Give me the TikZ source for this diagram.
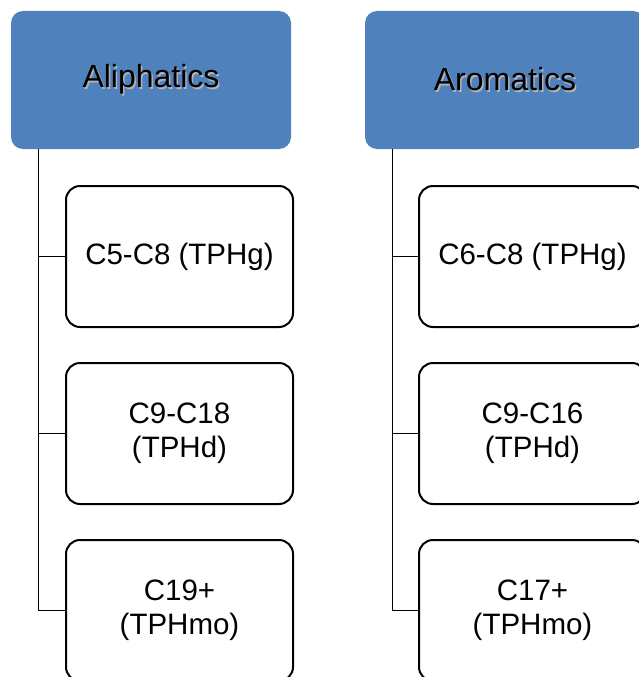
\documentclass[tikz,border=0pt]{standalone}
\usepackage{fontspec}
\setmainfont{Liberation Sans}
\usetikzlibrary{positioning}
\definecolor{hdrblue}{HTML}{4F81BD}
\newcommand{\shadowed}[1]{\makebox[0pt][l]{\hspace{1.5pt}\raisebox{-1.5pt}{\textcolor{black!30}{#1}}}#1}
\tikzset{
  header/.style={fill=hdrblue,rounded corners=12pt,minimum width=280pt,minimum height=138pt,
    inner sep=0pt,font=\fontsize{32}{36}\selectfont},
  item/.style={draw=black,line width=2pt,fill=white,rounded corners=14pt,minimum width=227pt,
    minimum height=141pt,inner sep=0pt,align=center,font=\fontsize{29.5}{34}\selectfont},
  trunk/.style={black,line width=1pt}
}
\begin{document}
\begin{tikzpicture}[x=1pt,y=-1pt]
    \useasboundingbox (0,0) rectangle (639,677);
    \clip (0,0) rectangle (639,677);
    %headers
    \node[header] (ali) at (151,80) {\shadowed{Aliphatics}};
    \node[header] (aro) at (505,80) {\shadowed{Aromatics}};
    %aliphatic fractions
    \node[item] (a1) at (179.5,256.5) {C5-C8 (TPHg)};
    \node[item] (a2) at (179.5,433.5) {C9-C18\\(TPHd)};
    \node[item] (a3) at (179.5,610.5) {C19+\\(TPHmo)};
    %aromatic fractions
    \node[item] (r1) at (532.5,256.5) {C6-C8 (TPHg)};
    \node[item] (r2) at (532.5,433.5) {C9-C16\\(TPHd)};
    \node[item] (r3) at (532.5,610.5) {C17+\\(TPHmo)};
    %connectors
    \coordinate (atop) at (38,149);
    \coordinate (rtop) at (392,149);
    \draw [trunk] (atop) |- (a3.west);
    \draw [trunk] (atop |- a1.west) -- (a1.west);
    \draw [trunk] (atop |- a2.west) -- (a2.west);
    \draw [trunk] (rtop) |- (r3.west);
    \draw [trunk] (rtop |- r1.west) -- (r1.west);
    \draw [trunk] (rtop |- r2.west) -- (r2.west);
\end{tikzpicture}
\end{document}
